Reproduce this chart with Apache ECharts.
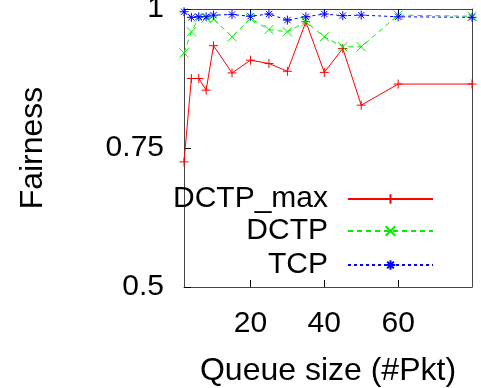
<!DOCTYPE html>
<html>
<head>
<meta charset="utf-8">
<script src="https://cdn.jsdelivr.net/npm/echarts@6/dist/echarts.min.js"></script>
<style>
  html, body { margin: 0; padding: 0; background: #fff; }
  #chart { width: 481px; height: 388px; }
</style>
</head>
<body>
<div id="chart"></div>
<script>
// data
const queueSizes = [2, 4, 6, 8, 10, 15, 20, 25, 30, 35, 40, 45, 50, 60, 80]
const dctpMax = [0.725, 0.875, 0.875, 0.854, 0.934, 0.885, 0.908, 0.902, 0.888, 0.977, 0.886, 0.929, 0.827, 0.865, 0.865]
const dctp = [0.921, 0.959, 0.984, 0.984, 0.982, 0.950, 0.983, 0.963, 0.959, 0.977, 0.950, 0.932, 0.932, 0.989, 0.987]
const tcp = [0.995, 0.985, 0.986, 0.986, 0.989, 0.990, 0.987, 0.991, 0.980, 0.986, 0.991, 0.988, 0.989, 0.986, 0.985]
const xTicks = [20, 40, 60]
const seriesNames = ['DCTP_max', 'DCTP', 'TCP']

const font = 'Liberation Sans'

// gnuplot style point markers
const symbols = {
  plus: 'path://M5 0 L5 10 M0 5 L10 5',
  cross: 'path://M0 0 L10 10 M10 0 L0 10',
  star: 'path://M5 0 L5 10 M0 5 L10 5 M1.5 1.5 L8.5 8.5 M8.5 1.5 L1.5 8.5'
}

function toPairs(values) {
  return queueSizes.map((x, i) => [x, values[i]])
}

function lineSeries(name, values, color, type, symbol) {
  return {
    name: name,
    type: 'line',
    data: toPairs(values),
    symbol: symbol,
    symbolSize: 9,
    showAllSymbol: true,
    lineStyle: { color: color, width: 1, type: type },
    itemStyle: { color: 'transparent', borderColor: color, borderWidth: 1 },
    emphasis: { disabled: true },
    animation: false
  }
}

// one legend per row so texts right-align like gnuplot's key
const legendRows = [184, 216, 250]
const legends = seriesNames.map((name, i) => ({
  data: [name],
  right: 47,
  top: legendRows[i],
  align: 'right',
  orient: 'vertical',
  padding: 0,
  itemWidth: 85,
  itemHeight: 12,
  selectedMode: false,
  textStyle: { fontFamily: font, fontSize: 30, color: '#000', padding: [0, 15, 0, 0] }
}))

const chart = echarts.init(document.getElementById('chart'))
chart.setOption({
  animation: false,
  backgroundColor: '#fff',
  grid: { left: 184, right: 9, top: 9, bottom: 101, show: false, containLabel: false, outerBoundsMode: 'none' },
  legend: legends,
  xAxis: [
    {
      type: 'value',
      min: 2,
      max: 80,
      name: 'Queue size (#Pkt)',
      nameLocation: 'middle',
      nameGap: 68,
      nameTextStyle: { fontFamily: font, fontSize: 32, color: '#000' },
      splitLine: { show: false },
      axisLine: { lineStyle: { color: '#444', width: 1 } },
      axisTick: { inside: true, length: 7, customValues: xTicks, lineStyle: { color: '#000' } },
      axisLabel: { customValues: xTicks, fontFamily: font, fontSize: 30, color: '#000', margin: 22 }
    },
    {
      type: 'value',
      position: 'top',
      min: 2,
      max: 80,
      splitLine: { show: false },
      axisLine: { show: true, lineStyle: { color: '#444', width: 1 } },
      axisTick: { inside: true, length: 7, customValues: xTicks, lineStyle: { color: '#000' } },
      axisLabel: { show: false }
    }
  ],
  yAxis: [
    {
      type: 'value',
      min: 0.5,
      max: 1,
      interval: 0.25,
      name: 'Fairness',
      nameLocation: 'middle',
      nameGap: 135,
      nameRotate: 90,
      nameTextStyle: { fontFamily: font, fontSize: 32, color: '#000' },
      splitLine: { show: false },
      axisLine: { show: true, lineStyle: { color: '#444', width: 1 } },
      axisTick: { inside: true, length: 7, lineStyle: { color: '#000' } },
      axisLabel: { fontFamily: font, fontSize: 30, color: '#000', margin: 20 }
    },
    {
      type: 'value',
      position: 'right',
      min: 0.5,
      max: 1,
      interval: 0.25,
      splitLine: { show: false },
      axisLine: { show: true, lineStyle: { color: '#444', width: 1 } },
      axisTick: { show: false },
      axisLabel: { show: false }
    }
  ],
  series: [
    lineSeries(seriesNames[0], dctpMax, '#ff0000', 'solid', symbols.plus),
    lineSeries(seriesNames[1], dctp, '#00ee00', [5, 4], symbols.cross),
    lineSeries(seriesNames[2], tcp, '#0000ff', [3, 3], symbols.star)
  ]
})
</script>
</body>
</html>
